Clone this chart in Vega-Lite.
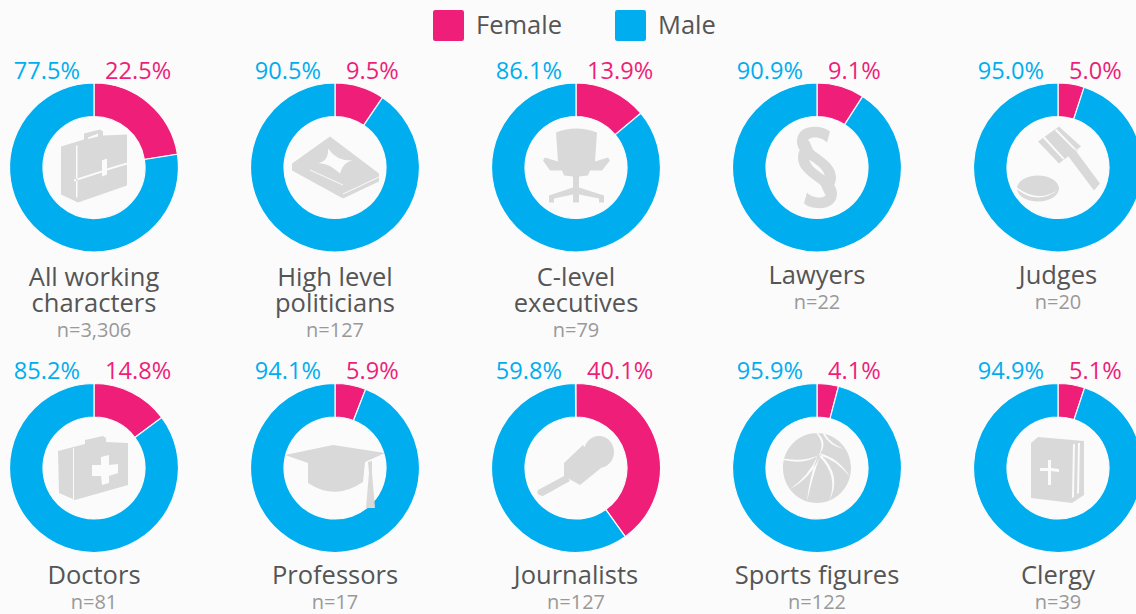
{
"$schema":"https://vega.github.io/schema/vega-lite/v6.json",
"autosize":"none","padding":0,"width":1136,"height":614,"background":"#fbfbfb",
"config":{"view":{"stroke":null},"font":"Open Sans"},
"datasets":{
"slices":[
{"category":"All working characters","sex":"Female","share":0.225,"col":0,"row":0},{"category":"All working characters","sex":"Male","share":0.775,"col":0,"row":0},
{"category":"High level politicians","sex":"Female","share":0.095,"col":1,"row":0},{"category":"High level politicians","sex":"Male","share":0.905,"col":1,"row":0},
{"category":"C-level executives","sex":"Female","share":0.139,"col":2,"row":0},{"category":"C-level executives","sex":"Male","share":0.861,"col":2,"row":0},
{"category":"Lawyers","sex":"Female","share":0.091,"col":3,"row":0},{"category":"Lawyers","sex":"Male","share":0.909,"col":3,"row":0},
{"category":"Judges","sex":"Female","share":0.05,"col":4,"row":0},{"category":"Judges","sex":"Male","share":0.95,"col":4,"row":0},
{"category":"Doctors","sex":"Female","share":0.148,"col":0,"row":1},{"category":"Doctors","sex":"Male","share":0.852,"col":0,"row":1},
{"category":"Professors","sex":"Female","share":0.059,"col":1,"row":1},{"category":"Professors","sex":"Male","share":0.941,"col":1,"row":1},
{"category":"Journalists","sex":"Female","share":0.401,"col":2,"row":1},{"category":"Journalists","sex":"Male","share":0.598,"col":2,"row":1},
{"category":"Sports figures","sex":"Female","share":0.041,"col":3,"row":1},{"category":"Sports figures","sex":"Male","share":0.959,"col":3,"row":1},
{"category":"Clergy","sex":"Female","share":0.051,"col":4,"row":1},{"category":"Clergy","sex":"Male","share":0.949,"col":4,"row":1}
],
"cats":[
{"category":"All working characters","label":"All working\ncharacters","n":"n=3,306","col":0,"row":0},
{"category":"High level politicians","label":"High level\npoliticians","n":"n=127","col":1,"row":0},
{"category":"C-level executives","label":"C-level\nexecutives","n":"n=79","col":2,"row":0},
{"category":"Lawyers","label":"Lawyers","n":"n=22","col":3,"row":0},
{"category":"Judges","label":"Judges","n":"n=20","col":4,"row":0},
{"category":"Doctors","label":"Doctors","n":"n=81","col":0,"row":1},
{"category":"Professors","label":"Professors","n":"n=17","col":1,"row":1},
{"category":"Journalists","label":"Journalists","n":"n=127","col":2,"row":1},
{"category":"Sports figures","label":"Sports figures","n":"n=122","col":3,"row":1},
{"category":"Clergy","label":"Clergy","n":"n=39","col":4,"row":1}
]},
"encoding":{
"x":{"field":"col","type":"quantitative","axis":null,"scale":{"domain":[-0.39004,4.3237],"nice":false,"zero":false}},
"y":{"field":"row","type":"quantitative","axis":null,"scale":{"domain":[1.4859,-0.5574],"nice":false,"zero":false}}
},
"layer":[
{"data":{"name":"slices"},
"transform":[{"stack":"share","groupby":["category"],"sort":[{"field":"sex","order":"ascending"}],"as":["start","end"]}],
"mark":{"type":"arc","innerRadius":51,"outerRadius":84.5,"stroke":"#fbfbfb","strokeWidth":1.2},
"encoding":{
"theta":{"field":"start","type":"quantitative","scale":{"domain":[0,1]}},
"theta2":{"field":"end"},
"color":{"field":"sex","type":"nominal","scale":{"domain":["Female","Male"],"range":["#ee1e79","#00aeef"]},
"legend":{"orient":"none","legendX":433,"legendY":10,"direction":"horizontal","title":null,"symbolType":"M-1,-0.85 Q-1,-1 -0.85,-1 L0.85,-1 Q1,-1 1,-0.85 L1,0.85 Q1,1 0.85,1 L-0.85,1 Q-1,1 -1,0.85 Z","symbolSize":961,"symbolStrokeWidth":0,"labelFontSize":25.5,"labelColor":"#555555","labelOffset":12,"columnPadding":52,"labelFont":"Open Sans"}}
}},
{"data":{"name":"slices"},"transform":[{"filter":"datum.sex=='Female'"}],
"mark":{"type":"text","align":"left","baseline":"alphabetic","dx":11,"dy":-88.5,"fontSize":23.6},
"encoding":{"text":{"field":"share","type":"quantitative","format":".1%"},"color":{"field":"sex","type":"nominal","legend":null}}},
{"data":{"name":"slices"},"transform":[{"filter":"datum.sex=='Male'"}],
"mark":{"type":"text","align":"right","baseline":"alphabetic","dx":-14,"dy":-88.5,"fontSize":23.6},
"encoding":{"text":{"field":"share","type":"quantitative","format":".1%"},"color":{"field":"sex","type":"nominal","legend":null}}},
{"data":{"name":"cats"},
"mark":{"type":"point","filled":true,"size":4,"opacity":1,"color":"#d9d9d9","strokeWidth":0},
"encoding":{"shape":{"field":"category","type":"nominal","legend":null,"scale":{
"domain":["All working characters","High level politicians","C-level executives","Lawyers","Judges","Doctors","Professors","Journalists","Sports figures","Clergy"],
"range":[
"M-33,-21 L-10,-28 L-10,-34 L6,-38 L9,-36 L9,-32 L33,-33 L33,18 L-16,35 L-33,27 Z M8,-7 L8,9 L13,7 L13,-9 Z M-6,-30 L-6,-28.5 L4,-31 L4,-34 Z M-20,14 L8,5 L8,3 L-20,12 Z M13,3 L33,-3 L33,-5 L13,1 Z M-18,-22 L-18,30 L-16.5,30 L-16.5,-22 Z",
"M-43,-4 L-5,-31 L44,6 L44,14 L8,31 L-43,3 Z M-18,-4 Q-8,-6 5,6 Q8,-6 18,-7 Q2,-6 -7,-19 Q-6,-6 -18,-4 Z M8,27 L44,10 L44,9 L8,26 Z M-25,3 L8,18 L8,17 L-25,2 Z",
"M-20,-35 Q0,-43 21,-35 L19,-6 L32,-10 L34,-7 L26,3 L14,3 L12,8 L3,9 L3,20 L28,28 L28,35 L23,35 L23,31 L3,27 L3,35 L-3,35 L-3,27 L-22,31 L-22,35 L-27,35 L-27,28 L-3,20 L-3,9 L-12,8 L-14,3 L-26,3 L-33,-7 L-31,-10 L-18,-6 Z",
"M13,-36 C5,-43 -20,-44 -20,-26 C-20,-9 8,-4 8,10 C8,13 6,16 4,18 L8,27 C14,23 19,18 19,10 C19,-9 -9,-15 -9,-26 C-9,-32 5,-31 10,-25 Z M-13,36 C-5,43 20,44 20,26 C20,9 -8,4 -8,-10 C-8,-13 -6,-16 -4,-18 L-8,-27 C-14,-23 -19,-18 -19,-10 C-19,9 9,15 9,26 C9,32 -5,31 -10,25 Z",
"M-20,-26 L1,-41 L23,-21 L1,-4 Z M9,-13 L16,-19 L42,16 L36,23 Z M-41,21 A21,13 0 1 1 1,21 A21,13 0 1 1 -41,21 Z M-15,-29.5 L5,-8 L6.5,-9 L-13.5,-31 Z M-3,-37 L18,-16 L19.5,-17 L-1.5,-38.5 Z M-41,22 Q-20,38 1,22 Q-20,36 -41,20 Z",
"M-36,-17 L-9,-24 L-9,-28 L9,-32 L12,-30 L12,-26 L34,-25 L34,17 L-19,32 L-35,25 Z M7,-11 L7,-3 L-2,-3 L-2,8 L7,8 L8,17 L15,15 L15,8 L24,5 L24,-4 L15,-3 L15,-13 Z M-21,-20 L-21,31 L-20,31 L-20,-20 Z",
"M-50,-13 L-2,-23 L50,-15 L30,-6 L28,14 Q0,33 -27,15 L-27,-5 Z M33,-6 L37,-7 L37,5 L40,40 L31,40 L34,5 Z",
"M8,-16 A15,16 0 1 1 38,-16 A15,16 0 1 1 8,-16 Z M-12,-5 L7,-23 L25,0 L4,17 L-12,8 Z M-38,22 L-10,7 L-6,13 L-33,28 Q-41,27 -38,22 Z",
"M-34,0 A34,35 0 1 1 34,0 A34,35 0 1 1 -34,0 Z M-33,-8 Q-12,-3 2,-13 Q-12,-6 -33,-9.5 Z M2,-13 Q20,-8 33,9 Q22,-10 2,-15 Z M-1,-35 Q9,-24 1,-12 Q12,-24 1,-35 Z M1,-13 Q-8,10 -10,34 Q-5,10 3,-12 Z M1,-13 Q-8,8 -27,21 Q-6,10 3,-12 Z M2,-12 Q22,8 12,33 Q26,8 3,-14 Z M6,-34 Q12,-22 27,-19 Q14,-24 8,-34 Z",
"M-27,-25 L-20,-31 L26,-27 L26,27 L14,35 L-27,30 Z M-10,-8 L-10,0 L-18,0 L-18,3 L-10,3 L-10,17 L-7,17 L-7,3 L1,4 L1,1 L-7,0 L-7,-8 Z M15,-24 L14,30 L16,29 L17,-24 Z M20,-25 L19,26 L21,25 L22,-25 Z"
]}}}},
{"data":{"name":"cats"},"transform":[{"filter":"indexof(datum.label,'\\n')>=0"}],
"mark":{"type":"text","align":"center","baseline":"alphabetic","dy":119,"fontSize":25.5,"lineBreak":"\n","lineHeight":26,"color":"#555555"},
"encoding":{"text":{"field":"label","type":"nominal"}}},
{"data":{"name":"cats"},"transform":[{"filter":"indexof(datum.label,'\\n')<0"}],
"mark":{"type":"text","align":"center","baseline":"alphabetic","dy":116.5,"fontSize":25.5,"color":"#555555"},
"encoding":{"text":{"field":"label","type":"nominal"}}},
{"data":{"name":"cats"},"transform":[{"filter":"indexof(datum.label,'\\n')>=0"}],
"mark":{"type":"text","align":"center","baseline":"alphabetic","dy":169.5,"fontSize":20,"color":"#999999"},
"encoding":{"text":{"field":"n","type":"nominal"}}},
{"data":{"name":"cats"},"transform":[{"filter":"indexof(datum.label,'\\n')<0"}],
"mark":{"type":"text","align":"center","baseline":"alphabetic","dy":141.5,"fontSize":20,"color":"#999999"},
"encoding":{"text":{"field":"n","type":"nominal"}}}
]
}
